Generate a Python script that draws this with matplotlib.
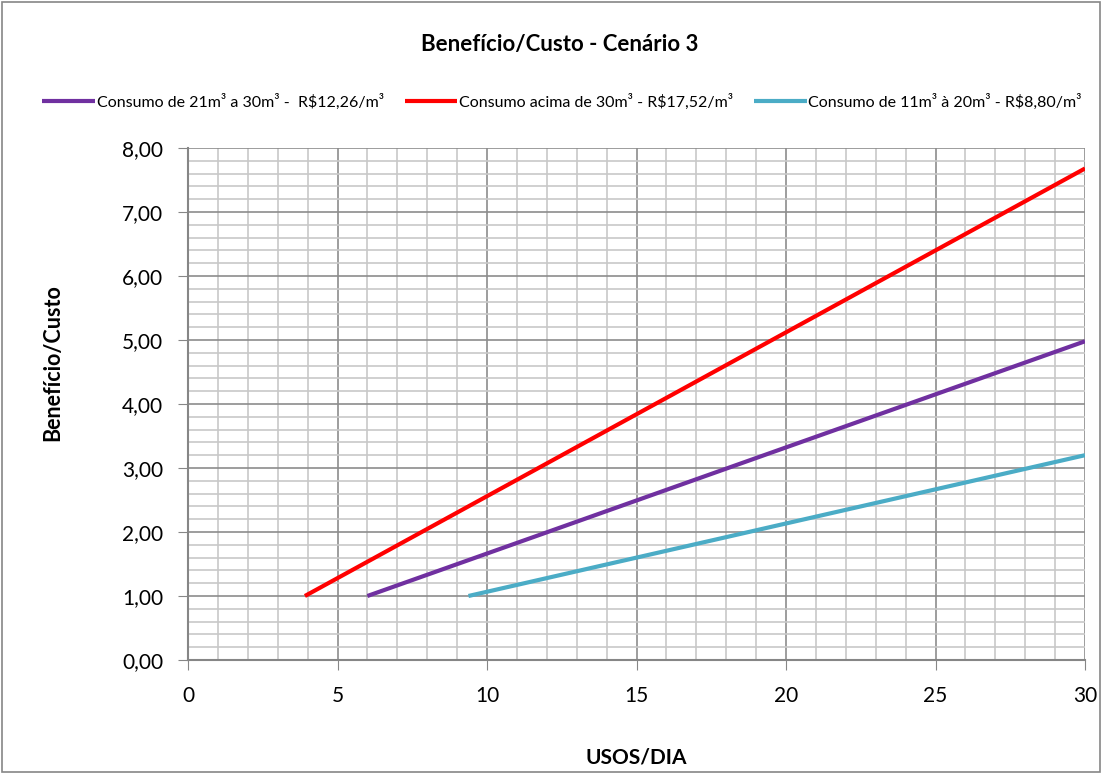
import matplotlib
matplotlib.use('Agg')
import matplotlib.pyplot as plt
from matplotlib.patches import Rectangle
from matplotlib.ticker import MultipleLocator, FuncFormatter

plt.rcParams['font.family'] = ['Lato', 'DejaVu Sans']

# Data (start and end points of each straight line)
usos_faixa_21_30 = [6.0, 30.0]
bc_faixa_21_30 = [1.0, 4.98]
usos_acima_30 = [3.91, 30.0]
bc_acima_30 = [1.0, 7.68]
usos_faixa_11_20 = [9.38, 30.0]
bc_faixa_11_20 = [1.0, 3.20]

labels = [
    'Consumo de 21m³ a 30m³ -  R$12,26/m³',
    'Consumo acima de 30m³ - R$17,52/m³',
    'Consumo de 11m³ à 20m³ - R$8,80/m³',
]
colors = ['#7030A0', '#FF0000', '#4BACC6']

fig = plt.figure(figsize=(11.02, 7.74), dpi=100)
ax = fig.add_axes([0.1706, 0.1473, 0.8140, 0.6615])

ax.plot(usos_faixa_21_30, bc_faixa_21_30, color=colors[0], lw=3, label=labels[0], solid_capstyle='butt')
ax.plot(usos_acima_30, bc_acima_30, color=colors[1], lw=3, label=labels[1], solid_capstyle='butt')
ax.plot(usos_faixa_11_20, bc_faixa_11_20, color=colors[2], lw=3, label=labels[2], solid_capstyle='butt')

ax.set_xlim(0, 30)
ax.set_ylim(0, 8)
ax.xaxis.set_major_locator(MultipleLocator(5))
ax.xaxis.set_minor_locator(MultipleLocator(1))
ax.yaxis.set_major_locator(MultipleLocator(1))
ax.yaxis.set_minor_locator(MultipleLocator(0.2))
ax.yaxis.set_major_formatter(FuncFormatter(lambda v, p: f'{v:.2f}'.replace('.', ',')))

ax.grid(which='major', color='#8C8C8C', lw=1.2)
ax.grid(which='minor', color='#C8C8C8', lw=1.2)
ax.set_axisbelow(True)

for s in ['top', 'right']:
    ax.spines[s].set_visible(False)
for s in ['left', 'bottom']:
    ax.spines[s].set_color('#868686')
    ax.spines[s].set_linewidth(1.5)

ax.tick_params(which='major', direction='out', length=7, color='#868686', labelsize=15)
ax.tick_params(which='minor', length=0)
ax.tick_params(axis='y', pad=11)
ax.tick_params(axis='x', pad=12)

ax.set_xlabel('USOS/DIA', fontsize=15, fontweight='bold', va='top')
ax.xaxis.set_label_coords(0.5, -0.170)
ax.set_ylabel('Benefício/Custo', fontsize=15.5, fontweight='bold')
ax.yaxis.set_label_coords(-0.139, 0.58)

fig.text(0.508, 0.942, 'Benefício/Custo - Cenário 3', ha='center', va='center',
         fontsize=16, fontweight='bold')

fig.legend(loc='center', bbox_to_anchor=(0.51, 0.869), ncol=3, frameon=False,
           fontsize=11.5, handlelength=3.3, handletextpad=0.1, columnspacing=1.3)

fig.patches.append(Rectangle((0.002, 0.002), 0.996, 0.996, transform=fig.transFigure,
                             fill=False, edgecolor='#868686', lw=1.2))

fig.savefig('out.png', dpi=100)
